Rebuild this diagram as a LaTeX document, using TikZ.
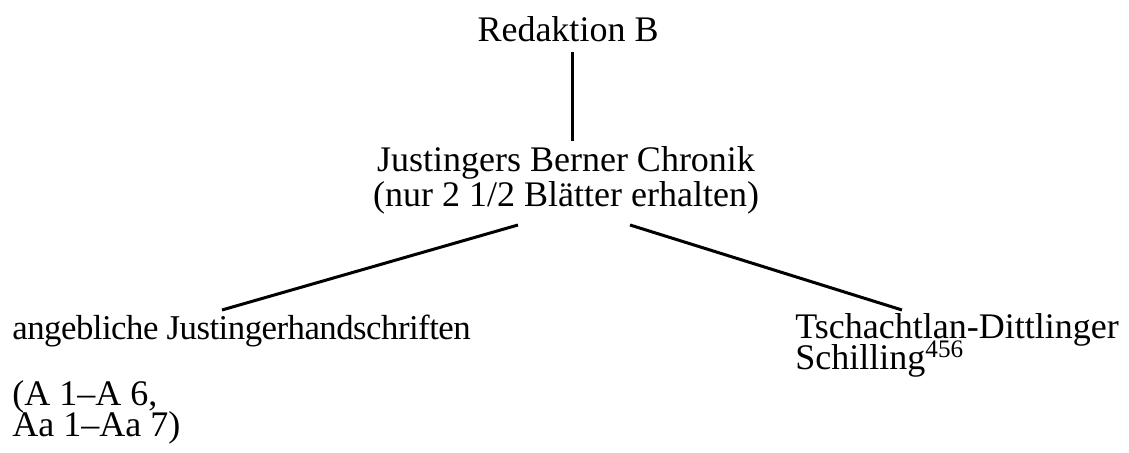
\documentclass[tikz,border=0pt]{standalone}
\usepackage{fontspec}
\setmainfont{Liberation Serif}
\newcommand\tightlines{\lineskiplimit=-20pt\relax}
\begin{document}
\begin{tikzpicture}[x=0.5pt, y=-0.5pt,
    txt/.style={inner sep=0pt, font=\fontsize{18}{15.5}\selectfont\tightlines},
    edge/.style={line width=1.5pt}]
    \useasboundingbox (0,0) rectangle (1129,453);

    % Texts (base = baseline of the last line)
    \node[txt, anchor=base] (redaktion) at (568,42) {Redaktion B};
    \node[txt, anchor=base, align=center, font=\fontsize{18}{17.5}\selectfont\tightlines] (chronik) at (566,207)
        {Justingers Berner Chronik\\(nur 2 1/2 Blätter erhalten)};
    \node[txt, anchor=base west, font=\fontsize{17.4}{15}\selectfont\addfontfeature{LetterSpace=-1.5}] (justinger) at (12,340)
        {angebliche Justingerhandschriften};
    \node[txt, anchor=base west, align=left] (siglen) at (12,437) {(A 1--A 6,\\Aa 1--Aa 7)};
    \node[txt, anchor=base west, align=left] (tschachtlan) at (795,370)
        {Tschachtlan-Dittlinger\\Schilling\textsuperscript{456}};

    % Connectors
    \draw[edge] ([xshift=2pt, yshift=-5pt]redaktion.base) -- ([xshift=3pt, yshift=3pt]chronik.north);
    \draw[edge] ([xshift=-24pt, yshift=-9pt]chronik.base) -- ([xshift=105pt, yshift=15pt]justinger.base west);
    \draw[edge] ([xshift=32pt, yshift=-9pt]chronik.base) -- ([xshift=53.5pt, yshift=30pt]tschachtlan.base west);
\end{tikzpicture}
\end{document}
